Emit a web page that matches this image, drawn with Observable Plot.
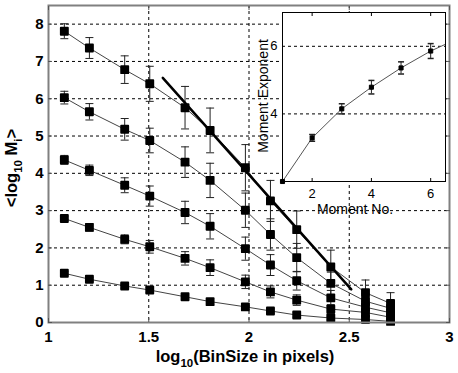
<!DOCTYPE html>
<html><head><meta charset="utf-8">
<script src="https://cdn.jsdelivr.net/npm/d3@7"></script>
<script src="https://cdn.jsdelivr.net/npm/@observablehq/plot@0.6"></script>
<style>
body{margin:0;background:#fff;}
#wrap{position:relative;width:458px;height:373px;background:#fff;}
#wrap svg{position:absolute;overflow:visible;}
</style></head><body><div id="wrap"></div>
<script>
// ---- data ----
const binX = [1.079, 1.204, 1.380, 1.505, 1.681, 1.806, 1.982, 2.107, 2.238, 2.408, 2.581, 2.706];
const m1 = [1.32, 1.16, 0.98, 0.87, 0.69, 0.56, 0.42, 0.31, 0.20, 0.12, 0.08, 0.03];
const m2 = [2.79, 2.55, 2.23, 2.03, 1.72, 1.47, 1.09, 0.82, 0.60, 0.36, 0.27, 0.14];
const m3 = [4.36, 4.08, 3.68, 3.39, 2.95, 2.58, 1.98, 1.54, 1.12, 0.66, 0.41, 0.26];
const m4 = [6.03, 5.65, 5.18, 4.88, 4.30, 3.81, 3.01, 2.36, 1.74, 1.05, 0.57, 0.38];
const m5 = [7.81, 7.36, 6.78, 6.40, 5.76, 5.15, 4.15, 3.26, 2.49, 1.49, 0.80, 0.51];
const e1 = [0.05, 0.05, 0.06, 0.07, 0.07, 0.08, 0.07, 0.06, 0.06, 0.05, 0.05, 0.04];
const e2 = [0.06, 0.10, 0.12, 0.17, 0.18, 0.21, 0.18, 0.16, 0.14, 0.12, 0.10, 0.08];
const e3 = [0.12, 0.14, 0.20, 0.27, 0.30, 0.34, 0.31, 0.28, 0.25, 0.20, 0.15, 0.12];
const e4 = [0.17, 0.22, 0.29, 0.33, 0.41, 0.46, 0.46, 0.42, 0.38, 0.30, 0.20, 0.15];
const e5 = [0.20, 0.28, 0.37, 0.47, 0.57, 0.60, 0.62, 0.55, 0.50, 0.45, 0.34, 0.29];
const fitX = [1.57, 2.51];
const fitY = [6.56, 0.89];
const xTicks = [1, 1.5, 2, 2.5, 3];
const xTickLabels = ["1", "1.5", "2", "2.5", "3"];
const xGrid = [1.5, 2, 2.5];
const yTicks = [0, 1, 2, 3, 4, 5, 6, 7, 8];

// inset
const momentNo = [1, 2, 3, 4, 5, 6];
const momentExp = [2.0, 3.29, 4.15, 4.79, 5.36, 5.86];
const momentErr = [0, 0.10, 0.15, 0.20, 0.18, 0.22];
const curveX = [1, 2, 3, 4, 5, 6, 6.5];
const curveY = [2.0, 3.29, 4.15, 4.79, 5.36, 5.86, 6.06];
const insetXTicks = [2, 4, 6];
const insetYTicks = [4, 6];

// ---- tables ----
const series = [m1, m2, m3, m4, m5];
const errs = [e1, e2, e3, e4, e5];
const rows = [];
series.forEach((vals, k) => vals.forEach((v, i) => rows.push({x: binX[i], y: v, e: errs[k][i], s: k})));
const fit = fitX.map((x, i) => ({x, y: fitY[i]}));
const mom = momentNo.map((x, i) => ({x, y: momentExp[i], e: momentErr[i]}));
const curve = curveX.map((x, i) => ({x, y: curveY[i]}));

const cap = w => ({draw(c) { c.moveTo(-w, 0); c.lineTo(w, 0); }});
const font = "'Liberation Sans', Arial, Helvetica, sans-serif";
const dash = {stroke: "#000", strokeOpacity: 1, strokeDasharray: "3,3", strokeWidth: 1};
const xFmt = d => xTickLabels[xTicks.indexOf(d)];

const main = Plot.plot({
  width: 458, height: 373,
  marginLeft: 48, marginRight: 9, marginTop: 5, marginBottom: 51,
  x: {domain: [1, 3]}, y: {domain: [0, 8.5]},
  style: {fontFamily: font, background: "transparent", color: "#000"},
  marks: [
    Plot.gridY(yTicks.filter(d => d > 0), dash),
    Plot.gridX(xGrid, dash),
    Plot.line(rows, {x: "x", y: "y", z: "s", stroke: "#444", strokeWidth: 1}),
    Plot.ruleX(rows, {x: "x", y1: d => d.y - d.e, y2: d => d.y + d.e, stroke: "#222", strokeWidth: 1}),
    Plot.dot(rows, {x: "x", y: d => d.y - d.e, symbol: cap(4), stroke: "#222", fill: "none", strokeWidth: 1}),
    Plot.dot(rows, {x: "x", y: d => d.y + d.e, symbol: cap(4), stroke: "#222", fill: "none", strokeWidth: 1}),
    Plot.line(fit, {x: "x", y: "y", stroke: "#000", strokeWidth: 2.5}),
    Plot.dot(rows, {x: "x", y: "y", symbol: "square", r: 4, fill: "#000", stroke: "#000", strokeWidth: 1.8, strokeLinejoin: "round"}),
    Plot.frame({stroke: "#808080", strokeWidth: 2}),
    Plot.axisY(yTicks, {anchor: "left", tickSize: 0, tickPadding: 5, fontSize: 15, fontWeight: "bold", label: null}),
    Plot.axisX(xTicks, {anchor: "bottom", tickSize: 0, tickPadding: 9, fontSize: 15, fontWeight: "bold", label: null, tickFormat: xFmt}),
    Plot.axisY(yTicks, {anchor: "left", tickSize: -4, tickFormat: () => "", label: null, stroke: "#555"}),
    Plot.axisY(yTicks, {anchor: "right", tickSize: -4, tickFormat: () => "", label: null, stroke: "#555"}),
    Plot.axisX(xTicks, {anchor: "bottom", tickSize: -4, tickFormat: () => "", label: null, stroke: "#555"}),
    Plot.axisX(xTicks, {anchor: "top", tickSize: -4, tickFormat: () => "", label: null, stroke: "#555"})
  ]
});

const inset = Plot.plot({
  width: 218, height: 230,
  marginLeft: 42, marginRight: 13, marginTop: 12, marginBottom: 49,
  x: {domain: [1, 6.5]}, y: {domain: [2, 7]},
  style: {fontFamily: font, background: "transparent", color: "#000"},
  marks: [
    Plot.frame({fill: "#fff", stroke: null}),
    Plot.gridY(insetYTicks, dash),
    Plot.line(curve, {x: "x", y: "y", stroke: "#555", strokeWidth: 1}),
    Plot.ruleX(mom.filter(d => d.e > 0), {x: "x", y1: d => d.y - d.e, y2: d => d.y + d.e, stroke: "#222"}),
    Plot.dot(mom.filter(d => d.e > 0), {x: "x", y: d => d.y - d.e, symbol: cap(3), stroke: "#222", fill: "none"}),
    Plot.dot(mom.filter(d => d.e > 0), {x: "x", y: d => d.y + d.e, symbol: cap(3), stroke: "#222", fill: "none"}),
    Plot.dot(mom, {x: "x", y: "y", symbol: "square", r: 2.3, fill: "#000", stroke: "#000", strokeWidth: 1}),
    Plot.frame({stroke: "#000", strokeWidth: 1}),
    Plot.axisX(insetXTicks, {anchor: "bottom", tickSize: 0, tickPadding: 7, fontSize: 13, label: null}),
    Plot.axisY(insetYTicks, {anchor: "left", tickSize: 0, tickPadding: 5, fontSize: 13, label: null}),
    Plot.axisX(insetXTicks, {anchor: "bottom", tickSize: -3, tickFormat: () => "", label: null}),
    Plot.axisX(insetXTicks, {anchor: "top", tickSize: -3, tickFormat: () => "", label: null})
  ]
});

const wrap = document.getElementById("wrap");
main.style.left = "0px"; main.style.top = "0px";
inset.style.left = "240px"; inset.style.top = "0px";
wrap.appendChild(main);
wrap.appendChild(inset);

// axis titles
const ms = d3.select(main);
const xl = ms.append("text").attr("x", 245).attr("y", 362).attr("text-anchor", "middle")
  .attr("font-family", font).attr("font-weight", "bold").attr("font-size", 16.5).attr("fill", "#000");
xl.append("tspan").text("log");
xl.append("tspan").attr("dy", 5).attr("font-size", 11.5).text("10");
xl.append("tspan").attr("dy", -5).text("(BinSize in pixels)");

const yl = ms.append("text").attr("transform", "translate(17,168) rotate(-90)").attr("text-anchor", "middle")
  .attr("font-family", font).attr("font-weight", "bold").attr("font-size", 16.5).attr("fill", "#000");
yl.append("tspan").text("<log");
yl.append("tspan").attr("dy", 5).attr("font-size", 11.5).text("10");
yl.append("tspan").attr("dy", -5).text(" M");
yl.append("tspan").attr("dy", 5).attr("font-size", 11.5).text("i");
yl.append("tspan").attr("dy", -5).text(">");

const is = d3.select(inset);
is.append("text").attr("transform", "translate(28,96) rotate(-90)").attr("text-anchor", "middle")
  .attr("font-family", font).attr("font-size", 14).attr("fill", "#000").text("Moment Exponent");
is.append("text").attr("x", 115).attr("y", 214).attr("text-anchor", "middle")
  .attr("font-family", font).attr("font-size", 14).attr("fill", "#000").text("Moment No.");
</script></body></html>
